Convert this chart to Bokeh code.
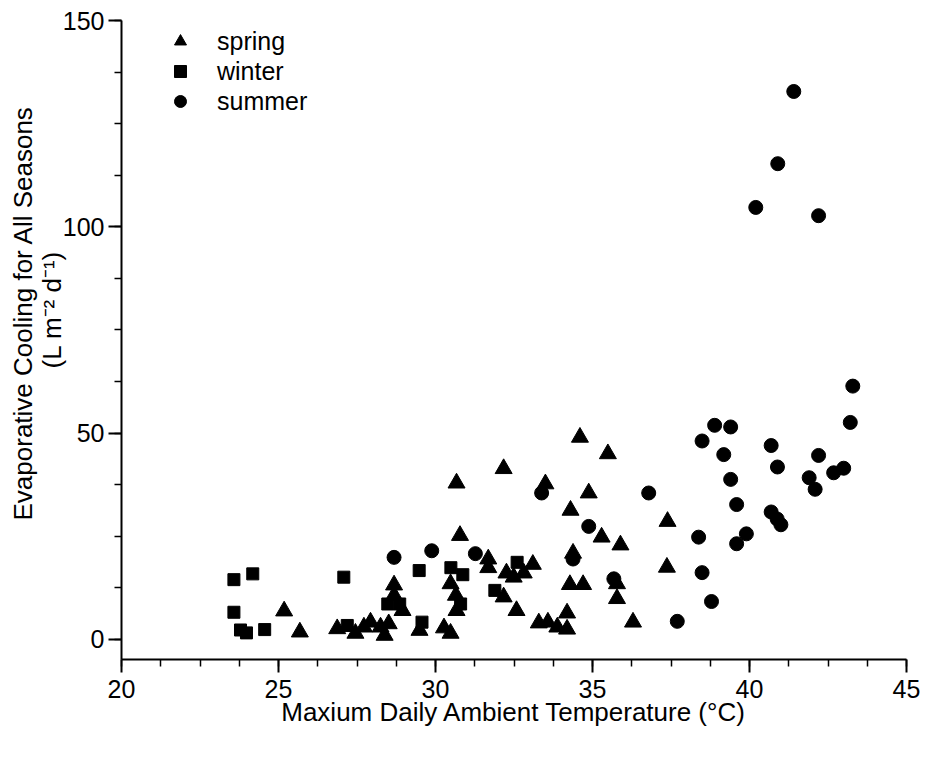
from bokeh.plotting import figure
from bokeh.models import Range1d, FixedTicker, Legend, LegendItem, Title
from bokeh.embed import file_html
from bokeh.resources import INLINE

FONT = "Liberation Sans"

# ---- data ----
spring_x = [25.18, 25.68, 26.87, 27.45, 27.72, 27.93, 28.25, 28.51, 28.38, 28.68,
            28.68, 28.95, 29.49, 30.27, 30.48, 30.48, 30.65, 30.67, 30.67, 30.78,
            31.68, 31.68, 32.17, 32.26, 32.49, 32.81, 33.10, 32.17, 32.58, 33.50,
            34.60, 35.49, 34.88, 34.30, 37.39, 35.29, 35.89, 34.38, 37.37, 35.78,
            34.28, 34.70, 35.78, 33.29, 33.58, 33.88, 34.19, 34.19, 36.29]
spring_y = [6.9, 1.8, 2.6, 1.5, 3.0, 4.2, 3.0, 3.8, 1.0, 13.2,
            10.7, 7.0, 2.2, 2.8, 1.5, 13.5, 10.7, 7.0, 37.9, 25.2,
            19.5, 17.4, 41.4, 16.1, 15.1, 16.1, 18.2, 10.3, 7.0, 37.7,
            49.0, 45.0, 35.5, 31.3, 28.6, 24.8, 22.9, 20.9, 17.5, 13.5,
            13.3, 13.3, 9.9, 4.0, 4.2, 3.0, 6.4, 2.5, 4.2]

winter_x = [23.58, 24.18, 23.58, 23.79, 23.98, 24.56, 27.08, 27.19, 28.48, 28.86,
            29.48, 29.57, 30.49, 30.87, 30.80, 31.89, 32.60]
winter_y = [14.5, 15.9, 6.6, 2.3, 1.6, 2.4, 15.1, 3.4, 8.6, 8.6,
            16.7, 4.2, 17.4, 15.7, 8.6, 11.9, 18.7]

summer_x = [28.68, 29.88, 31.27, 33.38, 34.88, 34.38, 35.68, 36.79, 37.70, 41.41,
            40.90, 40.20, 42.20, 43.29, 43.21, 38.89, 39.40, 38.49, 40.69, 39.18,
            42.20, 40.89, 43.00, 42.68, 39.40, 41.90, 42.09, 39.59, 40.69, 40.88,
            41.00, 38.38, 39.90, 39.59, 38.49, 38.79]
summer_y = [19.9, 21.5, 20.8, 35.5, 27.4, 19.5, 14.7, 35.5, 4.4, 132.8,
            115.3, 104.7, 102.7, 61.4, 52.6, 51.9, 51.5, 48.1, 47.0, 44.8,
            44.6, 41.8, 41.5, 40.4, 38.8, 39.2, 36.4, 32.7, 30.9, 29.2,
            27.8, 24.8, 25.6, 23.2, 16.2, 9.2]

x_major = [20, 25, 30, 35, 40, 45]
x_minor = [20 + 1.25 * i for i in range(21)]
y_major = [0, 50, 100, 150]
y_minor = [12.5 * i for i in range(13)]

x_title = "Maxium Daily Ambient Temperature (°C)"
y_title_1 = "Evaporative Cooling for All Seasons"
y_title_2 = "(L m⁻² d⁻¹)"

W, H = 925, 759

p = figure(width=W, height=H, x_range=Range1d(20, 45), y_range=Range1d(-4.85, 150),
           output_backend="svg", toolbar_location=None,
           min_border_left=121, min_border_right=19, min_border_top=20, min_border_bottom=100)
p.grid.visible = False
p.outline_line_color = None
p.background_fill_color = "white"
p.border_fill_color = "white"

p.xaxis.ticker = FixedTicker(ticks=x_major, minor_ticks=x_minor)
p.yaxis.ticker = FixedTicker(ticks=y_major, minor_ticks=y_minor)
for ax in (p.xaxis, p.yaxis):
    ax.axis_line_width = 2
    ax.axis_line_color = "black"
    ax.major_tick_line_width = 2
    ax.minor_tick_line_width = 1.5
    ax.major_tick_line_color = "black"
    ax.minor_tick_line_color = "black"
    ax.major_tick_out = 13
    ax.major_tick_in = 0
    ax.minor_tick_out = 7
    ax.minor_tick_in = 0
    ax.major_label_text_font = FONT
    ax.major_label_text_font_size = "25px"
    ax.major_label_text_color = "black"
p.xaxis.major_label_standoff = 7
p.yaxis.major_label_standoff = 4

p.xaxis.axis_label = x_title
p.xaxis.axis_label_text_font = FONT
p.xaxis.axis_label_text_font_size = "26px"
p.xaxis.axis_label_text_font_style = "normal"
p.xaxis.axis_label_text_color = "black"
p.xaxis.axis_label_standoff = -4

r_spring = p.scatter(spring_x, spring_y, marker="triangle", size=17, color="black")
r_winter = p.scatter(winter_x, winter_y, marker="square", size=12, color="black")
r_summer = p.scatter(summer_x, summer_y, marker="circle", size=14, color="black")

legend = Legend(items=[LegendItem(label="spring", renderers=[r_spring]),
                       LegendItem(label="winter", renderers=[r_winter]),
                       LegendItem(label="summer", renderers=[r_summer])],
                location=(44, 543), orientation="vertical",
                glyph_width=30, glyph_height=30, label_height=30, spacing=0,
                label_standoff=22, padding=0, margin=0,
                border_line_color=None, background_fill_alpha=0,
                label_text_font=FONT, label_text_font_size="25px", label_text_color="black")
p.add_layout(legend)

# two-line y title as stacked left titles (inner line first); align="left" starts at bottom + offset
t2 = Title(text=y_title_2, align="left", offset=291, standoff=-14,
           text_font=FONT, text_font_size="26px", text_font_style="normal", text_color="black")
t1 = Title(text=y_title_1, align="left", offset=139, standoff=8,
           text_font=FONT, text_font_size="26px", text_font_style="normal", text_color="black")
p.add_layout(t2, "left")
p.add_layout(t1, "left")

open("out.html", "w").write(file_html(p, INLINE))
